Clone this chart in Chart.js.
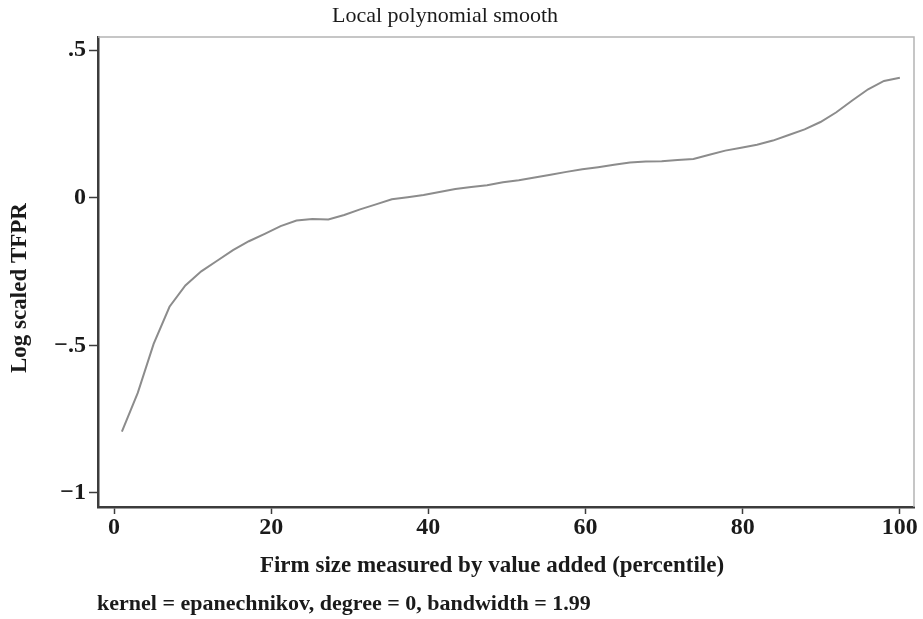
<!DOCTYPE html>
<html>
<head>
<meta charset="utf-8">
<script src="https://cdn.jsdelivr.net/npm/chart.js@4.4.1/dist/chart.umd.min.js"></script>
<style>
  html, body { margin: 0; padding: 0; background: #fff; }
  #wrap { width: 923px; height: 619px; }
</style>
</head>
<body>
<div id="wrap"><canvas id="chart" width="923" height="619"></canvas></div>
<script>
// percentile grid of the smooth (50 evaluation points)
const percentiles = [1, 3.02, 5.04, 7.06, 9.08, 11.1, 13.12, 15.14, 17.16, 19.18,
  21.2, 23.22, 25.24, 27.27, 29.29, 31.31, 33.33, 35.35, 37.37, 39.39,
  41.41, 43.43, 45.45, 47.47, 49.49, 51.51, 53.53, 55.55, 57.57, 59.59,
  61.61, 63.63, 65.65, 67.67, 69.69, 71.71, 73.73, 75.76, 77.78, 79.8,
  81.82, 83.84, 85.86, 87.88, 89.9, 91.92, 93.94, 95.96, 97.98, 100];

const logTFPR = [-0.792, -0.661, -0.495, -0.369, -0.297, -0.249, -0.213, -0.177, -0.147, -0.122,
  -0.096, -0.077, -0.072, -0.073, -0.058, -0.039, -0.022, -0.005, 0.002, 0.010,
  0.020, 0.030, 0.037, 0.043, 0.053, 0.060, 0.069, 0.078, 0.088, 0.097,
  0.104, 0.112, 0.120, 0.123, 0.124, 0.128, 0.132, 0.146, 0.160, 0.170,
  0.180, 0.194, 0.213, 0.232, 0.257, 0.290, 0.330, 0.368, 0.396, 0.407];

const xTicks = [0, 20, 40, 60, 80, 100];
const yTicks = [-1, -0.5, 0, 0.5];
const yTickLabels = ['\u22121', '\u2212.5', '0', '.5'];

const titleText = 'Local polynomial smooth';
const xTitle = 'Firm size measured by value added (percentile)';
const yTitle = 'Log scaled TFPR';
const noteText = 'kernel = epanechnikov, degree = 0, bandwidth = 1.99';

const serif = '"Liberation Serif", "DejaVu Serif", serif';
const axisColor = '#3c3c3c';
const textColor = '#1a1a1a';

// light frame on top/right plus the free-floating titles
const framePlugin = {
  id: 'frame',
  beforeDatasetsDraw(chart) {
    const { ctx, chartArea: a } = chart;
    ctx.save();
    ctx.strokeStyle = '#b4b4b4';
    ctx.lineWidth = 1.5;
    ctx.beginPath();
    ctx.moveTo(a.left, a.top);
    ctx.lineTo(a.right, a.top);
    ctx.lineTo(a.right, a.bottom);
    ctx.stroke();
    ctx.restore();
  },
  afterDraw(chart) {
    const ctx = chart.ctx;
    ctx.save();
    ctx.fillStyle = textColor;
    ctx.textBaseline = 'alphabetic';

    ctx.font = '22px ' + serif;
    ctx.textAlign = 'center';
    ctx.fillText(titleText, 445, 22);

    ctx.font = 'bold 23px ' + serif;
    ctx.fillText(xTitle, 492, 572);

    ctx.font = 'bold 22px ' + serif;
    ctx.textAlign = 'left';
    ctx.fillText(noteText, 97, 610);

    ctx.font = 'bold 23px ' + serif;
    ctx.translate(26, 288);
    ctx.rotate(-Math.PI / 2);
    ctx.textAlign = 'center';
    ctx.fillText(yTitle, 0, 0);
    ctx.restore();
  }
};

new Chart(document.getElementById('chart'), {
  type: 'line',
  data: {
    datasets: [{
      data: percentiles.map((p, i) => ({ x: p, y: logTFPR[i] })),
      borderColor: '#8c8c8c',
      borderWidth: 2,
      pointRadius: 0,
      tension: 0,
      fill: false
    }]
  },
  options: {
    responsive: false,
    animation: false,
    layout: { padding: { top: 37, right: 9, bottom: 0, left: 0 } },
    plugins: { legend: { display: false }, tooltip: { enabled: false } },
    scales: {
      x: {
        type: 'linear',
        min: -2.04,
        max: 101.8,
        afterFit(scale) { scale.height = 112; },
        afterBuildTicks(scale) { scale.ticks = xTicks.map(v => ({ value: v })); },
        border: { display: true, color: axisColor, width: 2.5 },
        grid: { drawOnChartArea: false, drawTicks: true, tickLength: 7, color: axisColor, tickWidth: 1.5 },
        ticks: { color: textColor, padding: -1, font: { family: serif, size: 24, weight: 'bold' }, maxRotation: 0 }
      },
      y: {
        type: 'linear',
        min: -1.0475,
        max: 0.545,
        afterFit(scale) { scale.width = 98; },
        afterBuildTicks(scale) { scale.ticks = yTicks.map(v => ({ value: v })); },
        border: { display: true, color: axisColor, width: 2.5 },
        grid: { drawOnChartArea: false, drawTicks: true, tickLength: 9, color: axisColor, tickWidth: 1.5 },
        ticks: {
          color: textColor,
          padding: 3,
          font: { family: serif, size: 24, weight: 'bold' },
          callback: (v) => {
            const k = yTicks.indexOf(v);
            return k >= 0 ? yTickLabels[k] : '';
          }
        }
      }
    }
  },
  plugins: [framePlugin]
});
</script>
</body>
</html>
